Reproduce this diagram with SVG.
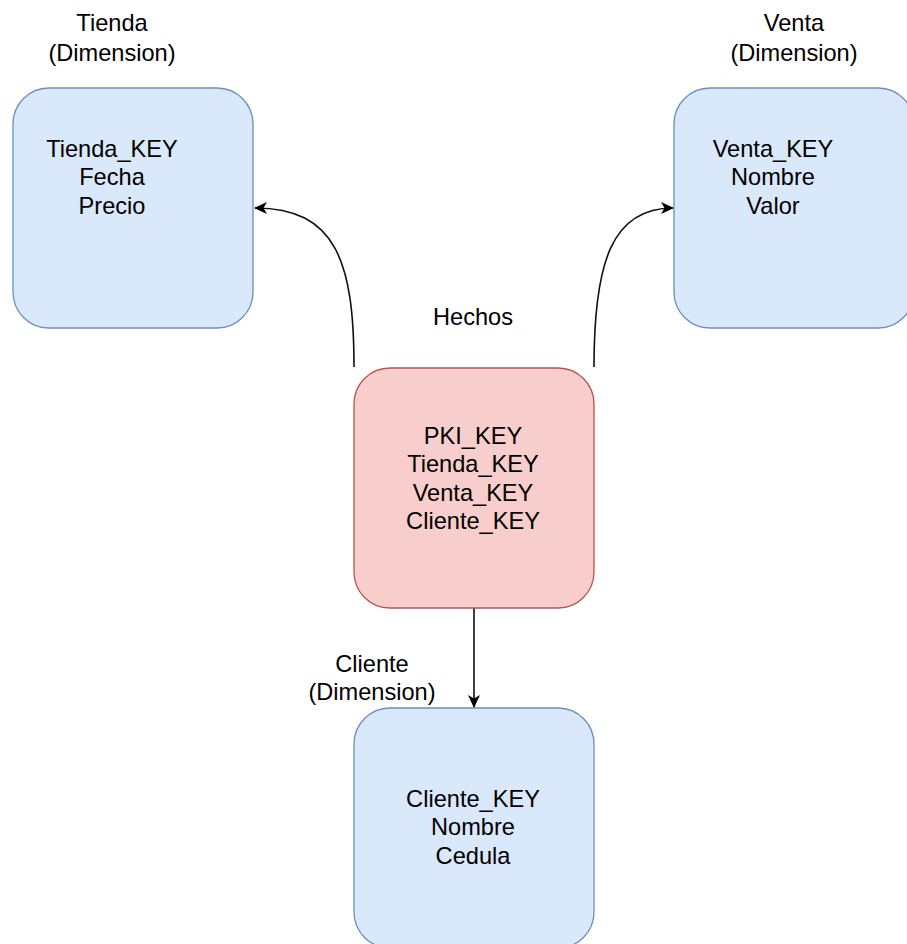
<svg xmlns="http://www.w3.org/2000/svg" width="907" height="944" viewBox="0 0 907 944">
  <defs>
    <marker id="arrow" viewBox="0 0 13 12" refX="12" refY="6" markerWidth="13" markerHeight="12" markerUnits="userSpaceOnUse" orient="auto">
      <path d="M0,0 L13,6 L0,12 L3.5,6 Z" fill="#000"/>
    </marker>
  </defs>
  <style>
    .dim { fill: #dae8fc; stroke: #6c8ebf; stroke-width: 1.3; }
    .fact { fill: #f8cecc; stroke: #b85450; stroke-width: 1.3; }
    text { font-family: "Liberation Sans", Arial, sans-serif; font-size: 23.6px; fill: #000; text-anchor: middle; }
    .edge { fill: none; stroke: #111; stroke-width: 1.6; marker-end: url(#arrow); }
  </style>
  <rect width="907" height="944" fill="#fff"/>

  <g id="connectors">
    <path class="edge" d="M354,367 C354,262 336,208 255,208"/>
    <path class="edge" d="M594,367 C594,262 612,208 673,208"/>
    <path class="edge" d="M474,608 L474,707"/>
  </g>

  <g id="tienda">
    <text x="112" y="30.5">Tienda</text>
    <text x="112" y="61">(Dimension)</text>
    <rect class="dim" x="13" y="88" width="240" height="240" rx="36" ry="36"/>
    <text x="112" y="156.5">Tienda_KEY</text>
    <text x="112" y="185">Fecha</text>
    <text x="112" y="213.5">Precio</text>
  </g>

  <g id="venta">
    <text x="794" y="30.5">Venta</text>
    <text x="794" y="61">(Dimension)</text>
    <rect class="dim" x="674" y="88" width="240" height="240" rx="36" ry="36"/>
    <text x="773" y="156.5">Venta_KEY</text>
    <text x="773" y="185">Nombre</text>
    <text x="773" y="213.5">Valor</text>
  </g>

  <g id="hechos">
    <text x="473" y="324.5">Hechos</text>
    <rect class="fact" x="354" y="368" width="240" height="240" rx="36" ry="36"/>
    <text x="473" y="443.5">PKI_KEY</text>
    <text x="473" y="472">Tienda_KEY</text>
    <text x="473" y="500.5">Venta_KEY</text>
    <text x="473" y="529">Cliente_KEY</text>
  </g>

  <g id="cliente">
    <text x="372" y="671.5">Cliente</text>
    <text x="372" y="700">(Dimension)</text>
    <rect class="dim" x="354" y="708" width="240" height="240" rx="36" ry="36"/>
    <text x="473" y="806.5">Cliente_KEY</text>
    <text x="473" y="835">Nombre</text>
    <text x="473" y="864">Cedula</text>
  </g>
</svg>
